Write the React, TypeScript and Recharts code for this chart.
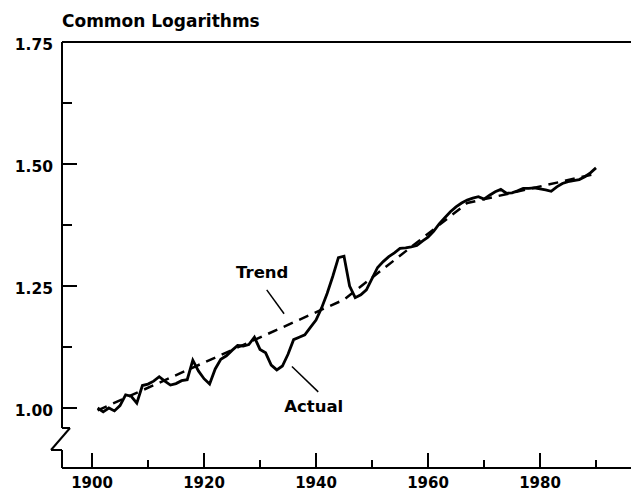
import { LineChart, Line, XAxis, YAxis, ReferenceLine, ReferenceDot } from "recharts";

// Actual series, common log, one value per year
const years = [
  1901, 1902, 1903, 1904, 1905, 1906, 1907, 1908, 1909, 1910,
  1911, 1912, 1913, 1914, 1915, 1916, 1917, 1918, 1919, 1920,
  1921, 1922, 1923, 1924, 1925, 1926, 1927, 1928, 1929, 1930,
  1931, 1932, 1933, 1934, 1935, 1936, 1937, 1938, 1939, 1940,
  1941, 1942, 1943, 1944, 1945, 1946, 1947, 1948, 1949, 1950,
  1951, 1952, 1953, 1954, 1955, 1956, 1957, 1958, 1959, 1960,
  1961, 1962, 1963, 1964, 1965, 1966, 1967, 1968, 1969, 1970,
  1971, 1972, 1973, 1974, 1975, 1976, 1977, 1978, 1979, 1980,
  1981, 1982, 1983, 1984, 1985, 1986, 1987, 1988, 1989, 1990,
];
const actual = [
  1.0, 0.992, 1.0, 0.994, 1.005, 1.027, 1.024, 1.01, 1.046, 1.049,
  1.055, 1.064, 1.055, 1.047, 1.05, 1.056, 1.058, 1.098, 1.076, 1.06,
  1.049, 1.08, 1.1, 1.107, 1.118, 1.128, 1.127, 1.13, 1.145, 1.12,
  1.113, 1.088, 1.078, 1.086, 1.11, 1.14, 1.145, 1.15, 1.165, 1.18,
  1.205, 1.235, 1.27, 1.308, 1.311, 1.25, 1.226, 1.232, 1.242, 1.265,
  1.288, 1.3, 1.31, 1.318, 1.327, 1.328, 1.33, 1.333, 1.342, 1.35,
  1.362, 1.377, 1.39, 1.402, 1.412, 1.42, 1.426, 1.43, 1.433, 1.428,
  1.436, 1.443, 1.448, 1.44, 1.441, 1.445, 1.45, 1.45, 1.451, 1.449,
  1.447, 1.444, 1.453, 1.46, 1.464, 1.466, 1.468, 1.474, 1.482, 1.492,
];

// Trend breakpoints
const trendYears = [1901, 1945, 1967, 1990];
const trendValues = [0.995, 1.222, 1.42, 1.48];

const xTicks = [1900, 1910, 1920, 1930, 1940, 1950, 1960, 1970, 1980, 1990];
const xLabels = [1900, 1920, 1940, 1960, 1980];
const yTicks = [1.0, 1.125, 1.25, 1.375, 1.5, 1.625, 1.75];
const yLabels = [1.0, 1.25, 1.5, 1.75];

const actualData = years.map((year, i) => ({ year, value: actual[i] }));
const trendData = trendYears.map((year, i) => ({ year, value: trendValues[i] }));

const X_MIN = 1894.64;
const X_MAX = 1996.25;
const Y_MIN = 0.877;
const Y_MAX = 1.75;
// pixel -> data unit helpers for the axis break
const PX_X = (X_MAX - X_MIN) / 569;
const PX_Y = (Y_MAX - Y_MIN) / 426;
const BREAK_HI = 1 - 20 * PX_Y;
const BREAK_LO = 1 - 42 * PX_Y;

const FONT = "'DejaVu Sans', sans-serif";

const YTick = (props: any) => {
  const { x, y, payload } = props;
  const major = yLabels.some((v) => Math.abs(v - payload.value) < 1e-6);
  return (
    <g>
      <line x1={x} x2={x + (major ? 15 : 10)} y1={y} y2={y} stroke="#000" strokeWidth={2} />
      {major && (
        <text x={x - 9} y={y + 8} textAnchor="end" fontFamily={FONT} fontWeight="bold" fontSize={15.5} fill="#000">
          {payload.value.toFixed(2)}
        </text>
      )}
    </g>
  );
};

const XTick = (props: any) => {
  const { x, y, payload } = props;
  const major = xLabels.includes(payload.value);
  return (
    <g>
      <line x1={x} x2={x} y1={y} y2={y - (major ? 15 : 8)} stroke="#000" strokeWidth={2} />
      {major && (
        <text x={x} y={y + 20} textAnchor="middle" fontFamily={FONT} fontWeight="bold" fontSize={15} fill="#000">
          {payload.value}
        </text>
      )}
    </g>
  );
};

const label = (text: string) => (p: any) => (
  <text x={p.cx} y={p.cy + 6} textAnchor="middle" fontFamily={FONT} fontWeight="bold" fontSize={16.5} fill="#000">
    {text}
  </text>
);

const axisSegs = [
  [{ x: X_MIN, y: Y_MAX }, { x: X_MIN, y: BREAK_HI }],
  [{ x: X_MIN, y: BREAK_HI }, { x: X_MIN + 8 * PX_X, y: BREAK_HI }],
  [{ x: X_MIN + 8 * PX_X, y: BREAK_HI }, { x: X_MIN - 11 * PX_X, y: BREAK_LO }],
  [{ x: X_MIN - 11 * PX_X, y: BREAK_LO }, { x: X_MIN, y: BREAK_LO }],
  [{ x: X_MIN, y: BREAK_LO }, { x: X_MIN, y: Y_MIN }],
];

export default function App() {
  return (
    <div style={{ position: "absolute", left: 0, top: 0, width: 631, height: 491, background: "#fff" }}>
      <div
        style={{
          position: "absolute",
          left: 62,
          top: 13,
          fontFamily: FONT,
          fontWeight: "bold",
          fontSize: 17,
          lineHeight: "17px",
          whiteSpace: "nowrap",
        }}
      >
        Common Logarithms
      </div>
      <LineChart width={631} height={491} margin={{ top: 42, right: 0, bottom: 0, left: 0 }}>
        <XAxis
          dataKey="year"
          type="number"
          domain={[X_MIN, X_MAX]}
          allowDataOverflow
          ticks={xTicks}
          interval={0}
          height={23}
          tickSize={0}
          tickMargin={0}
          tickLine={false}
          axisLine={{ stroke: "#000", strokeWidth: 2 }}
          tick={<XTick />}
        />
        <YAxis
          type="number"
          domain={[Y_MIN, Y_MAX]}
          allowDataOverflow
          ticks={yTicks}
          interval={0}
          width={62}
          tickSize={0}
          tickMargin={0}
          tickLine={false}
          axisLine={false}
          tick={<YTick />}
        />
        <ReferenceLine y={Y_MAX} stroke="#000" strokeWidth={2} />
        {axisSegs.map((seg, i) => (
          <ReferenceLine key={i} segment={seg} stroke="#000" strokeWidth={2} ifOverflow="visible" />
        ))}
        {/* annotation pointers */}
        <ReferenceLine segment={[{ x: 1931.2, y: 1.242 }, { x: 1934.3, y: 1.193 }]} stroke="#000" strokeWidth={1.5} />
        <ReferenceLine segment={[{ x: 1935.7, y: 1.085 }, { x: 1940.4, y: 1.033 }]} stroke="#000" strokeWidth={1.5} />
        <ReferenceDot x={1930.4} y={1.279} r={0} shape={label("Trend")} />
        <ReferenceDot x={1939.6} y={1.004} r={0} shape={label("Actual")} />
        <Line
          data={trendData}
          dataKey="value"
          type="linear"
          stroke="#000"
          strokeWidth={2.5}
          strokeDasharray="10 7"
          dot={false}
          isAnimationActive={false}
        />
        <Line
          data={actualData}
          dataKey="value"
          type="linear"
          stroke="#000"
          strokeWidth={2.8}
          dot={false}
          isAnimationActive={false}
        />
      </LineChart>
    </div>
  );
}
